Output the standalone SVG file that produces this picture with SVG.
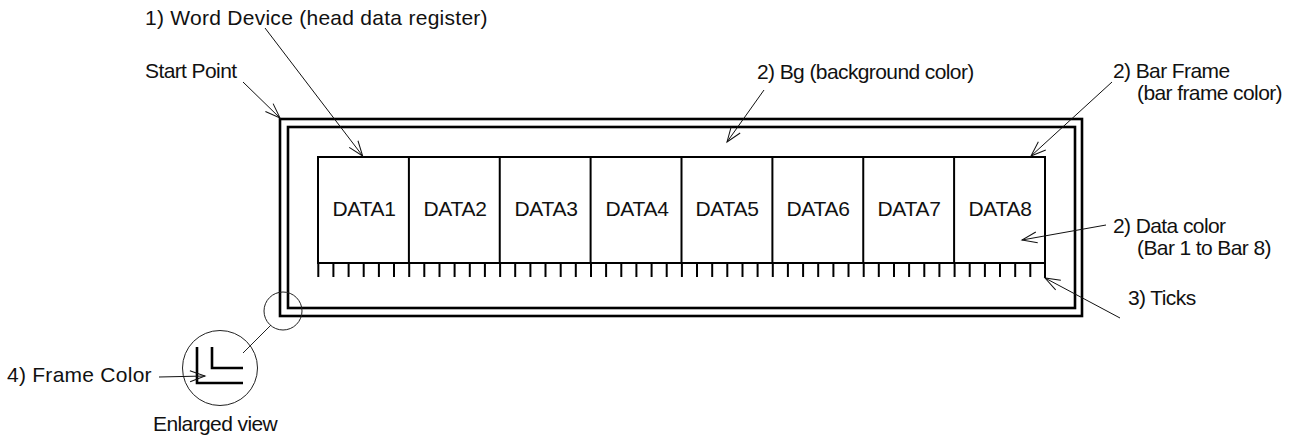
<svg xmlns="http://www.w3.org/2000/svg" width="1310" height="438" viewBox="0 0 1310 438">
<defs>
<marker id="arr" markerUnits="userSpaceOnUse" markerWidth="20" markerHeight="16" viewBox="-16 -8 20 16" refX="0" refY="0" orient="auto">
<path d="M-15,-5.5 L0,0 L-15,5.5" fill="none" stroke="#111" stroke-width="1"/>
</marker>
</defs>
<style>
text{font-family:"Liberation Sans",Arial,sans-serif;font-size:21px;fill:#111;letter-spacing:-0.6px}
.frame{fill:none;stroke:#000;stroke-width:2.6}
.bar{fill:none;stroke:#000;stroke-width:2}
.tick{stroke:#000;stroke-width:2}
.lead{fill:none;stroke:#111;stroke-width:1;marker-end:url(#arr)}
.thin{fill:none;stroke:#222;stroke-width:1}
.data{text-anchor:middle;letter-spacing:-0.3px}
</style>
<g id="frame">
<rect class="frame" x="280" y="119" width="802" height="197"/>
<rect class="frame" x="288" y="127" width="787" height="181"/>
</g>
<g id="bars">
<rect class="bar" x="318" y="157" width="727" height="106"/>
<path class="bar" d="M408.9,157V263M499.75,157V263M590.6,157V263M681.5,157V263M772.4,157V263M863.25,157V263M954.1,157V263M1045,263V278"/>
<text class="data" x="364" y="216">DATA1</text>
<text class="data" x="455" y="216">DATA2</text>
<text class="data" x="546" y="216">DATA3</text>
<text class="data" x="637" y="216">DATA4</text>
<text class="data" x="727" y="216">DATA5</text>
<text class="data" x="818" y="216">DATA6</text>
<text class="data" x="909" y="216">DATA7</text>
<text class="data" x="1000" y="216">DATA8</text>
</g>
<g id="ticks">
<path class="tick" d="M318.3,263v14M333.4,263v14M348.6,263v14M363.7,263v14M378.9,263v14M394,263v14M409.2,263v14M424.3,263v14M439.5,263v14M454.6,263v14M469.8,263v14M484.9,263v14M500.1,263v14M515.2,263v14M530.4,263v14M545.5,263v14M560.7,263v14M575.8,263v14M591,263v14M606.1,263v14M621.3,263v14M636.4,263v14M651.6,263v14M666.7,263v14M681.9,263v14M697,263v14M712.2,263v14M727.3,263v14M742.5,263v14M757.6,263v14M772.8,263v14M787.9,263v14M803.1,263v14M818.2,263v14M833.4,263v14M848.5,263v14M863.7,263v14M878.8,263v14M894,263v14M909.1,263v14M924.3,263v14M939.4,263v14M954.6,263v14M969.7,263v14M984.9,263v14M1000,263v14M1015.2,263v14M1030.3,263v14"/>
</g>
<g id="enlarged">
<circle class="thin" cx="283" cy="311" r="19"/>
<line class="thin" x1="271" y1="325" x2="243" y2="353"/>
<circle class="thin" cx="220" cy="368" r="37.5"/>
<path fill="none" stroke="#000" stroke-width="2.6" d="M197,347V383H243M212,347V368H243"/>
</g>
<g id="labels">
<text x="145" y="25" textLength="342" lengthAdjust="spacing">1) Word Device (head data register)</text>
<text x="145" y="78">Start Point</text>
<text x="757" y="79">2) Bg (background color)</text>
<text x="1113" y="78">2) Bar Frame</text>
<text x="1137" y="100">(bar frame color)</text>
<text x="1113" y="233">2) Data color</text>
<text x="1137" y="255">(Bar 1 to Bar 8)</text>
<text x="1128" y="305">3) Ticks</text>
<text x="7" y="382" textLength="144" lengthAdjust="spacing">4) Frame Color</text>
<text x="153" y="431">Enlarged view</text>
</g>
<g id="connectors">
<line class="lead" x1="265" y1="28" x2="362.7" y2="156"/>
<line class="lead" x1="243" y1="82" x2="280" y2="118"/>
<line class="lead" x1="764" y1="90" x2="727" y2="142"/>
<line class="lead" x1="1112" y1="82" x2="1031" y2="156"/>
<line class="lead" x1="1106" y1="225" x2="1022" y2="240"/>
<line class="lead" x1="1120" y1="318" x2="1045" y2="278"/>
<line class="lead" x1="159" y1="377" x2="205" y2="376"/>
</g>
</svg>
